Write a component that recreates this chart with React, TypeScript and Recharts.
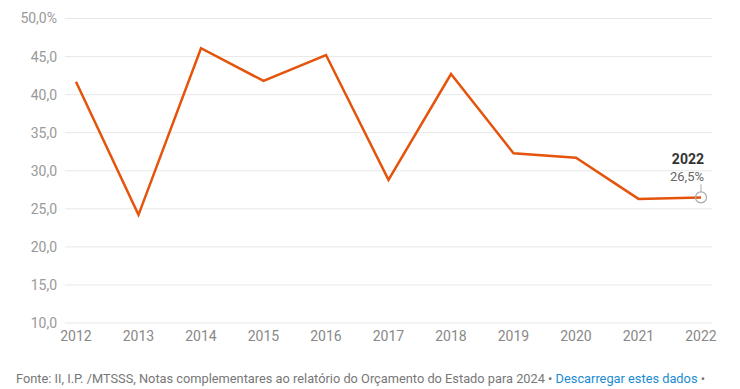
import React from "react";
import { LineChart, Line, XAxis, YAxis, CartesianGrid } from "recharts";

const years = ["2012", "2013", "2014", "2015", "2016", "2017", "2018", "2019", "2020", "2021", "2022"];
const rates = [41.7, 24.2, 46.1, 41.8, 45.2, 28.8, 42.7, 32.3, 31.7, 26.3, 26.5];
const yTicks = [10, 15, 20, 25, 30, 35, 40, 45, 50];

const data = years.map((y, i) => ({ year: y, value: rates[i] }));

const fmt = (v: number) => v.toFixed(1).replace(".", ",");

const LastDot = (props: any) => {
  const { cx, cy, index, payload } = props;
  if (index !== data.length - 1) return <g key={`d${index}`} />;
  return (
    <g key={`d${index}`}>
      <circle cx={cx} cy={cy} r={5.5} fill="none" stroke="#aaaaaa" strokeWidth={1.2} />
      <line x1={cx} x2={cx} y1={cy - 5.5} y2={cy - 13} stroke="#aaaaaa" strokeWidth={1} />
      <text x={cx + 3} y={cy - 16} textAnchor="end" fontSize={13} fill="#666" fontFamily="Roboto">
        {fmt(payload.value)}%
      </text>
      <text x={cx + 3} y={cy - 33} textAnchor="end" fontSize={14} fontWeight="bold" fill="#333" fontFamily="Roboto">
        {payload.year}
      </text>
    </g>
  );
};

export default function App() {
  return (
    <div style={{ position: "absolute", left: 0, top: 0, width: 740, height: 389, background: "#fff", fontFamily: "Roboto" }}>
      <LineChart width={740} height={360} data={data} margin={{ top: 18.5, right: 28, bottom: 7, left: 8 }}>
        <CartesianGrid vertical={false} stroke="#e8e8e8" />
        <XAxis
          dataKey="year"
          axisLine={false}
          tickLine={false}
          padding={{ left: 11, right: 11 }}
          tick={{ fill: "#888", fontSize: 14, fontFamily: "Roboto" }}
          interval={0}
        />
        <YAxis
          domain={[10, 50]}
          ticks={yTicks}
          width={57}
          axisLine={false}
          tickLine={false}
          tick={{ fill: "#999", fontSize: 14, fontFamily: "Roboto" }}
          tickFormatter={(v: number) => (v === 50 ? fmt(v) + "%" : fmt(v))}
        />
        <Line
          type="linear"
          dataKey="value"
          stroke="#e4540c"
          strokeWidth={2.5}
          dot={LastDot}
          activeDot={false}
          isAnimationActive={false}
        />
      </LineChart>
      <div style={{ position: "absolute", left: 16, top: 371, fontSize: 12.8, color: "#777", whiteSpace: "nowrap", fontFamily: "Roboto" }}>
        Fonte: II, I.P. /MTSSS, Notas complementares ao relatório do Orçamento do Estado para 2024 •{" "}
        <span style={{ color: "#1a8bd0" }}>Descarregar estes dados</span> •
      </div>
    </div>
  );
}
